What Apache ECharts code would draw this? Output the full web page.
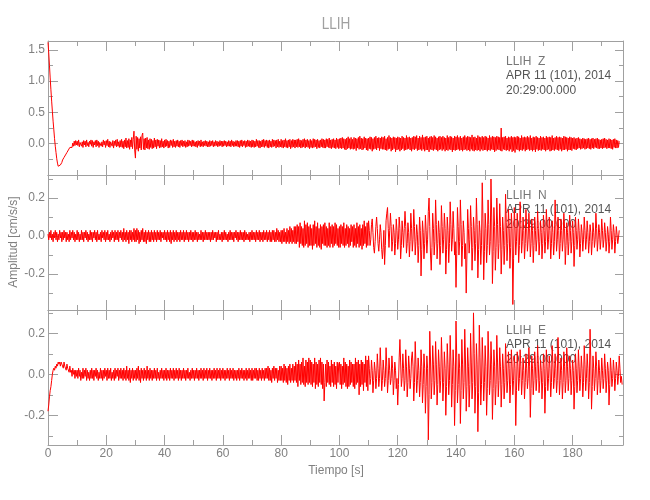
<!DOCTYPE html>
<html>
<head>
<meta charset="utf-8">
<script src="https://cdn.jsdelivr.net/npm/echarts@6/dist/echarts.min.js"></script>
<style>html,body{margin:0;padding:0;background:#fff}#c{width:650px;height:500px}</style>
</head>
<body>
<div id="c"></div>
<script>
// ---- data ----
var stationName = 'LLIH';
var components = ['Z', 'N', 'E'];
var dateLine = 'APR 11 (101), 2014';
var timeLine = '20:29:00.000';
var timeStep = 0.25; // s between samples
var xTickValues = [0, 20, 40, 60, 80, 100, 120, 140, 160, 180];
var yTickValuesZ = [0.0, 0.5, 1.0, 1.5];
var yTickValuesNE = [-0.2, 0.0, 0.2];

var compZ = [
1.62,1.45,1.25,1.05,.86,.68,.52,.36,.22,.08,-.04,-.14,-.24,-.31,-.36,-.37,-.35,-.34,-.31,-.3,
-.26,-.28,-.22,-.24,-.18,-.2,-.14,-.16,-.1,-.12,-.06,-.09,-.03,-.06,.01,-.04,.04,-.03,.05,-.02,
.04,-.03,.06,-.05,.02,.05,-.04,.03,-.06,.05,-.02,.04,-.05,.06,-.03,.02,-.05,.04,-.01,.06,
-.04,.05,-.06,.03,-.02,.05,-.05,.06,-.03,.04,-.06,.02,.05,-.04,.03,-.05,.06,-.02,.04,-.06,
.05,-.03,.07,-.05,.04,-.06,.03,.06,-.04,.05,-.07,.04,-.03,.06,-.05,.07,-.04,.03,-.06,.05,
-.05,.07,-.06,.04,-.08,.06,-.05,.09,-.07,.05,-.06,.08,-.09,.06,-.05,.1,-.08,.07,.2,-.1,
-.23,.12,-.09,.1,-.12,.08,-.07,.11,-.1,.13,.17,-.09,.08,-.1,.09,-.07,.1,-.08,.06,-.09,
.08,-.06,.07,-.08,.05,-.07,.09,-.05,.06,-.08,.07,-.04,.06,-.07,.05,-.06,.08,-.05,.04,-.07,
.06,-.05,.07,-.04,.05,-.07,.04,-.06,.06,-.03,.05,-.06,.07,-.05,.04,-.06,.05,-.04,.06,-.05,
.04,-.06,.05,-.03,.06,-.05,.04,-.04,.05,-.06,.03,-.05,.06,-.04,.05,-.03,.04,-.05,.06,-.04,
.05,-.04,.03,-.05,.04,-.06,.05,-.03,.04,-.05,.06,-.04,.03,-.05,.04,-.03,.05,-.04,.04,-.05,
.03,-.05,.05,-.04,.04,-.03,.05,-.05,.03,-.04,.05,-.03,.04,-.05,.03,-.04,.05,-.03,.04,-.05,
.04,-.04,.05,-.03,.04,-.05,.03,-.04,.05,-.04,.04,-.05,.06,-.03,.04,-.05,.03,-.04,.05,-.04,
.05,-.05,.04,-.06,.05,-.04,.06,-.05,.04,-.03,.05,-.06,.04,-.05,.06,-.04,.05,-.05,.04,-.06,
.06,-.05,.05,-.06,.04,-.05,.07,-.04,.05,-.06,.05,-.07,.04,-.05,.06,-.05,.07,-.06,.05,-.04,
.06,-.06,.05,-.07,.06,-.05,.04,-.06,.07,-.05,.06,-.04,.05,-.07,.06,-.05,.07,-.06,.04,-.05,
.07,-.06,.05,-.07,.06,-.05,.08,-.06,.05,-.07,.06,-.05,.07,-.08,.05,-.06,.07,-.05,.06,-.07,
.06,-.05,.07,-.06,.08,-.05,.06,-.07,.05,-.06,.07,-.05,.08,-.07,.06,-.05,.07,-.06,.05,-.08,
.07,-.06,.05,-.07,.08,-.06,.07,-.05,.06,-.08,.07,-.06,.05,-.07,.06,-.05,.08,-.06,.07,-.07,
.06,-.07,.08,-.05,.07,-.06,.09,-.07,.06,-.08,.07,-.06,.08,-.07,.06,-.08,.09,-.06,.07,-.08,
.08,-.07,.09,-.08,.1,-.07,.08,-.09,.07,-.1,.09,-.08,.11,-.07,.08,-.09,.1,-.08,.07,-.09,
.1,-.08,.09,-.11,.08,-.07,.1,-.09,.12,-.08,.09,-.1,.08,-.09,.11,-.07,.09,-.1,.08,-.11,
.09,-.08,.11,-.09,.1,-.12,.08,-.09,.1,-.08,.12,-.1,.09,-.07,.1,-.11,.09,-.08,.11,-.09,
.1,-.09,.12,-.1,.08,-.11,.1,-.09,.13,-.08,.1,-.12,.09,-.1,.11,-.08,.1,-.13,.09,-.1,
.11,-.09,.1,-.12,.09,-.1,.12,-.08,.1,-.11,.09,-.1,.13,-.09,.1,-.08,.11,-.1,.09,-.12,
.1,-.09,.12,-.1,.11,-.08,.13,-.11,.09,-.1,.12,-.09,.1,-.11,.14,-.09,.1,-.12,.11,-.1,
.12,-.1,.09,-.13,.11,-.09,.12,-.1,.1,-.11,.13,-.09,.11,-.1,.09,-.12,.11,-.1,.12,-.09,
.1,-.11,.12,-.09,.1,-.12,.09,-.1,.13,-.11,.1,-.09,.12,-.1,.11,-.13,.09,-.1,.12,-.11,
.11,-.1,.13,-.09,.1,-.11,.12,-.1,.09,-.12,.11,-.1,.13,-.09,.1,-.11,.12,-.1,.11,-.12,
.1,-.09,.14,-.11,.1,-.12,.11,-.1,.09,-.11,.13,-.1,.11,-.12,.1,-.09,.12,-.11,.1,-.1,
.12,-.1,.11,-.12,.09,-.1,.13,-.11,.1,-.09,.12,-.1,.11,-.13,.1,-.11,.12,-.09,.11,-.1,
.1,-.11,.25,-.12,.1,-.09,.11,-.1,.12,-.11,.09,-.1,.11,-.12,.1,-.09,.12,-.13,.1,-.11,
.11,-.14,.1,-.09,.12,-.1,.11,-.12,.09,-.1,.13,-.11,.1,-.09,.11,-.12,.1,-.1,.12,-.09,
.1,-.11,.13,-.1,.09,-.12,.11,-.1,.1,-.13,.12,-.09,.1,-.11,.09,-.1,.12,-.11,.1,-.09,
.11,-.1,.09,-.12,.12,-.1,.1,-.09,.11,-.12,.1,-.11,.13,-.1,.09,-.11,.1,-.09,.12,-.1,
.1,-.11,.11,-.09,.1,-.12,.09,-.1,.12,-.1,.11,-.09,.1,-.12,.09,-.1,.11,-.1,.1,-.11,
.09,-.08,.1,-.09,.08,-.1,.09,-.08,.1,-.07,.08,-.09,.07,-.08,.09,-.07,.08,-.09,.07,-.08,
.08,-.07,.09,-.08,.07,-.09,.08,-.07,.09,-.08,.07,-.06,.08,-.07,.09,-.08,.07,-.08,.06,-.07,
.07,-.08,.08,-.07,.09,-.06,.07,-.08,.06,-.07,.08,-.07,.07,-.08,.06,-.09,.07,-.06,.08,-.07,
.06,-.07,.05,-.06,.04
];

var compN = [
.01,-.02,.02,-.01,.03,-.02,.01,-.03,.02,-.01,.03,-.02,.02,-.03,.01,-.02,.03,-.01,.02,-.03,
.02,-.02,.03,-.01,.02,-.03,.02,-.02,.01,-.03,.03,-.02,.02,-.01,.03,-.02,.02,-.03,.01,-.02,
.03,-.02,.02,-.03,.01,-.02,.03,-.02,.02,-.03,.02,-.01,.03,-.02,.02,-.03,.01,-.02,.03,-.02,
.02,-.03,.02,-.01,.03,-.02,.02,-.03,.03,-.02,.01,-.02,.02,-.03,.03,-.01,.02,-.02,.03,-.03,
.02,-.02,.03,-.02,.01,-.03,.02,-.02,.03,-.01,.02,-.03,.03,-.02,.02,-.02,.03,-.03,.02,-.01,
.03,-.02,.02,-.03,.04,-.02,.02,-.03,.03,-.02,.02,-.04,.03,-.02,.03,-.03,.02,-.02,.04,-.03,
.03,-.03,.04,-.02,.03,-.04,.02,-.03,.03,-.02,.04,-.03,.02,-.03,.03,-.04,.02,-.02,.03,-.03,
.02,-.03,.03,-.02,.02,-.03,.03,-.02,.02,-.03,.03,-.02,.02,-.02,.03,-.03,.02,-.01,.02,-.02,
.03,-.02,.02,-.03,.03,-.02,.02,-.03,.03,-.04,.02,-.02,.03,-.03,.02,-.02,.03,-.03,.02,-.02,
.02,-.03,.03,-.02,.02,-.02,.03,-.03,.02,-.02,.03,-.02,.02,-.03,.02,-.02,.03,-.02,.02,-.03,
.02,-.02,.03,-.02,.02,-.03,.02,-.02,.01,-.02,.03,-.02,.02,-.03,.02,-.02,.03,-.02,.02,-.02,
.02,-.02,.02,-.03,.02,-.02,.03,-.02,.02,-.01,.02,-.03,.02,-.02,.03,-.02,.01,-.02,.02,-.03,
.02,-.02,.03,-.02,.02,-.02,.01,-.03,.02,-.02,.03,-.02,.02,-.02,.02,-.03,.02,-.01,.03,-.02,
.02,-.03,.02,-.02,.03,-.02,.02,-.02,.02,-.03,.03,-.02,.02,-.02,.01,-.02,.02,-.03,.02,-.02,
.03,-.02,.02,-.02,.02,-.03,.03,-.02,.02,-.02,.03,-.03,.02,-.02,.02,-.03,.03,-.02,.02,-.02,
.03,-.03,.02,-.02,.03,-.03,.02,-.03,.03,-.02,.03,-.03,.02,-.03,.04,-.02,.03,-.03,.02,-.03,
.03,-.04,.03,-.03,.04,-.03,.02,-.04,.04,-.03,.03,-.04,.05,-.03,.04,-.04,.03,-.03,.05,-.04,
.05,-.04,.06,-.03,.05,-.06,.07,-.04,.05,-.05,.04,-.06,.08,-.05,.06,-.04,.07,-.06,.05,-.05,
.06,-.05,.04,-.07,.06,-.05,.08,-.04,.05,-.06,.07,-.05,.04,-.06,.06,-.07,.05,-.04,.06,-.05,
.07,-.05,.05,-.06,.04,-.05,.07,-.06,.05,-.04,.06,-.06,.05,-.05,.07,-.04,.06,-.05,.04,-.06,
.05,-.06,.06,-.04,.05,-.05,.07,-.06,.04,-.05,.06,-.04,.05,-.06,.04,-.05,.06,-.03,.05,-.06,
.06,-.05,.04,-.06,.07,-.04,.05,-.06,.06,-.05,.04,-.07,.06,-.05,.08,-.04,.05,-.06,.07,-.05,
.08,.03,-.05,-.02,.06,.09,.02,-.06,-.09,-.03,.05,.1,.04,-.04,-.08,-.02,.06,.02,-.07,-.12,
-.06,.03,-.15,-.05,.08,.12,.15,.04,-.06,.03,.12,.05,-.08,-.03,.06,.02,-.1,-.04,.09,.03,
-.07,-.02,.1,.04,-.12,-.05,.08,.02,-.06,.04,.13,.05,-.09,-.04,.07,.02,-.11,-.03,.12,.04,
-.08,-.02,.14,.05,-.1,-.03,.06,.01,-.14,-.05,.1,.03,-.21,-.07,.08,.02,-.12,-.04,.11,.03,
-.09,-.02,.13,.2,.05,-.1,-.18,-.06,.12,.04,-.1,-.03,.19,.06,-.12,-.04,.08,.02,-.15,-.05,
.16,.05,-.09,-.02,.12,.04,-.2,-.07,.1,.03,-.14,-.04,.18,.06,-.08,-.02,.13,.04,-.1,-.03,
-.27,-.09,.15,.05,-.1,-.03,.19,.06,-.16,-.05,.08,.02,-.12,-.04,-.3,-.1,.14,.04,-.09,-.02,
.16,.05,-.18,-.06,.1,.03,-.13,-.04,.2,.06,-.22,-.07,.08,.02,-.15,-.05,.28,.09,-.23,-.08,
.12,.04,-.14,-.05,.19,.06,-.1,-.03,.3,.1,-.25,-.08,.15,.05,-.18,-.06,.2,.06,-.12,-.04,
.17,.05,-.2,-.07,.1,.03,-.15,-.05,.22,.07,-.13,-.04,.14,.04,-.17,-.06,.12,.04,-.36,-.12,
.15,.05,-.1,-.03,.12,.04,-.14,-.05,.18,.06,-.09,-.03,.1,.03,-.12,-.04,.14,.04,-.08,-.02,
.12,.04,-.11,-.04,.09,.03,-.14,-.05,.1,.03,-.08,-.02,.13,.04,-.1,-.03,.08,.02,-.12,-.04,
.11,.03,-.09,-.03,.14,.05,-.07,-.02,.1,.03,-.12,-.04,.08,.02,-.1,-.03,.19,.06,-.08,-.02,
.1,.03,-.12,-.04,.09,.03,-.08,-.02,.12,.04,-.15,-.05,.07,.02,-.1,-.03,.11,.03,-.09,-.03,
.08,.02,-.16,-.05,.1,.03,-.07,-.02,.09,.03,-.11,-.04,.06,.02,-.08,-.02,.1,.03,-.07,-.02,
.08,.02,-.09,-.03,.06,.02,-.1,-.03,.07,.02,-.06,-.02,.12,.04,-.08,-.02,.06,.02,-.07,-.02,
.09,.03,-.06,-.02,.07,.02,-.08,-.03,.05,.01,-.09,-.03,.1,.03,-.07,-.02,.06,.02,-.09,-.03,
.05,.01,-.04,-.01,.03
];

var compE = [
-.18,-.15,-.11,-.08,-.06,-.03,0,.02,.03,.02,.04,.03,.05,.04,.06,.05,.06,.04,.06,.05,
.05,.03,.06,.04,.04,.02,.05,.03,.03,.01,.04,.01,.02,-.01,.03,0,.02,-.02,.02,-.01,
.02,-.02,.03,-.01,.02,-.03,.01,-.02,.03,-.02,.02,-.01,.03,-.03,.02,-.02,.01,-.03,.02,-.02,
.03,-.02,.02,-.03,.02,-.01,.03,-.02,.02,-.03,.01,-.02,.03,-.02,.02,-.03,.02,-.02,.03,-.01,
.02,-.03,.03,-.02,.02,-.02,.03,-.03,.01,-.02,.02,-.03,.03,-.02,.02,-.01,.03,-.03,.02,-.02,
.03,-.02,.02,-.03,.03,-.02,.02,-.03,.04,-.02,.02,-.03,.03,-.04,.02,-.02,.03,-.03,.02,-.02,
.02,-.03,.03,-.02,.04,-.03,.02,-.04,.03,-.02,.02,-.03,.03,-.02,.02,-.03,.04,-.02,.02,-.03,
.03,-.02,.02,-.03,.02,-.02,.03,-.02,.02,-.03,.03,-.02,.01,-.03,.02,-.02,.03,-.02,.02,-.03,
.02,-.02,.03,-.03,.02,-.02,.02,-.03,.03,-.02,.02,-.02,.03,-.03,.02,-.02,.03,-.02,.02,-.03,
.03,-.02,.02,-.03,.02,-.02,.03,-.02,.02,-.03,.02,-.02,.03,-.02,.01,-.03,.02,-.02,.03,-.02,
.02,-.03,.02,-.02,.03,-.02,.02,-.03,.02,-.02,.03,-.02,.02,-.03,.03,-.02,.02,-.02,.03,-.03,
.02,-.02,.03,-.02,.02,-.03,.02,-.02,.03,-.02,.02,-.03,.03,-.02,.02,-.02,.03,-.03,.02,-.02,
.03,-.02,.02,-.03,.02,-.02,.03,-.02,.02,-.03,.03,-.02,.02,-.02,.03,-.03,.02,-.02,.02,-.03,
.02,-.02,.03,-.03,.02,-.02,.03,-.02,.02,-.03,.02,-.02,.03,-.03,.02,-.02,.03,-.02,.02,-.03,
.03,-.03,.02,-.02,.03,-.02,.03,-.03,.02,-.03,.03,-.02,.02,-.03,.03,-.02,.02,-.03,.03,-.02,
.03,-.02,.04,-.03,.03,-.03,.02,-.04,.03,-.02,.04,-.03,.03,-.02,.03,-.04,.02,-.03,.04,-.03,
.04,-.03,.03,-.04,.05,-.03,.04,-.04,.03,-.05,.04,-.03,.05,-.04,.03,-.03,.05,-.04,.04,-.03,
.06,-.04,.05,-.06,.07,-.03,.05,-.05,.06,-.04,.08,-.05,.04,-.06,.07,-.04,.06,-.05,.08,-.04,
.07,-.05,.06,-.06,.05,-.04,.08,-.07,.06,-.05,.05,-.06,.07,-.04,.08,-.05,.06,-.07,.05,-.13,
-.04,.05,-.06,.07,-.04,.06,-.05,.04,-.06,.07,-.04,.05,-.06,.06,-.05,.04,-.07,.06,-.04,.05,
.06,-.05,.05,-.07,.04,-.05,.08,-.04,.06,-.06,.05,-.07,.04,-.06,.07,-.05,.06,-.04,.05,-.06,
.05,-.07,.08,-.05,.06,-.04,.07,-.1,.05,-.06,.07,-.05,.06,-.08,.05,-.04,.09,-.06,.07,-.08,
.09,.03,-.05,-.02,.07,.02,-.09,-.03,.06,.02,-.07,-.02,.1,.03,-.06,-.02,.13,.04,-.08,-.03,
.07,.02,-.06,-.02,.13,.04,-.09,-.03,.08,.02,-.05,-.02,.09,.03,-.1,-.03,.06,.02,-.07,-.02,
-.15,-.05,.08,.17,.06,-.06,-.02,.1,.03,-.08,-.03,.12,.04,-.11,-.04,.09,.03,-.07,-.02,.08,
.11,.04,-.13,-.04,.16,.05,-.09,-.03,.08,.02,-.11,-.04,.12,.04,-.14,-.05,.1,.03,-.19,-.06,
.09,.03,-.32,-.1,.21,.07,-.12,-.04,.14,.05,-.1,-.03,.16,.05,-.15,-.05,.12,.04,-.09,-.03,
.18,.06,-.13,-.04,.11,.03,-.2,-.06,.15,.05,-.1,-.03,.19,.06,-.16,-.05,.12,.04,-.25,-.08,
.26,.08,-.14,-.05,.1,.03,-.24,-.08,.17,.05,-.12,-.04,.22,.07,-.18,-.06,.13,.04,-.16,-.05,
.2,.06,-.12,-.04,.3,.1,-.19,-.06,.15,.05,-.28,-.09,.24,.08,-.15,-.05,.18,.06,-.13,-.04,
.14,.04,-.2,-.07,.21,.07,-.1,-.03,.16,.05,-.22,-.07,.12,.04,-.15,-.05,.19,.06,-.11,-.03,
.13,.04,-.16,-.05,.1,.03,-.12,-.04,.15,.05,-.09,-.03,.11,.03,-.14,-.05,.12,.04,-.1,-.03,
.09,.03,-.25,-.08,.11,.04,-.08,-.02,.12,.04,-.1,-.03,.08,.02,-.12,-.04,.1,.03,-.07,-.02,
.13,.04,-.21,-.07,.09,.03,-.1,-.03,.11,.04,-.08,-.02,.14,.05,-.09,-.03,.07,.02,-.12,-.04,
.1,.03,-.19,-.06,.12,.04,-.08,-.02,.09,.03,-.11,-.04,.14,.05,-.07,-.02,.1,.03,-.09,-.03,
.18,.06,-.1,-.03,.08,.02,-.12,-.04,.11,.04,-.09,-.03,.13,.04,-.08,-.02,.09,.03,-.1,-.03,
.07,.02,-.17,-.06,.1,.03,-.09,-.03,.12,.04,-.08,-.02,.09,.03,-.11,-.04,.14,.05,-.08,-.02,
.1,.03,-.12,-.04,.22,.07,-.17,-.06,.09,.03,-.08,-.02,.11,.04,-.1,-.03,.07,.02,-.09,-.03,
.08,.02,-.07,-.02,.1,.03,-.09,-.03,.06,.02,-.15,-.05,.08,.02,-.06,-.02,.07,.02,-.08,-.02,
.06,.02,-.05,-.01,.09,.03,-.04,-.01,-.05
];

// ---- chart ----
var FONT = "'Liberation Sans', Arial, sans-serif";
var AXIS_COLOR = '#a0a0a0';
var LABEL_COLOR = '#808080';

function pairs(arr) {
  return arr.map(function (v, i) { return [i * timeStep, v]; });
}
function inList(v, list) {
  for (var i = 0; i < list.length; i++) if (Math.abs(list[i] - v) < 1e-6) return true;
  return false;
}

var X_MIN = 0, X_MAX = 197.3;
var panels = [
  { top: 41, height: 134, yMin: -0.5, yMax: 1.64, yInterval: 0.5, labels: yTickValuesZ, data: compZ },
  { top: 175, height: 135, yMin: -0.389, yMax: 0.321, splitNumber: 4, labels: yTickValuesNE, data: compN },
  { top: 310, height: 135, yMin: -0.345, yMax: 0.314, splitNumber: 4, labels: yTickValuesNE, data: compE }
];

var grids = [], xAxes = [], yAxes = [], series = [], graphics = [];
function ticks(len) { return { inside: true, length: len, lineStyle: { color: AXIS_COLOR } }; }
function minor(len) { return { show: true, splitNumber: 2, length: len, lineStyle: { color: AXIS_COLOR } }; }
var lineCommon = { show: true, onZero: false, lineStyle: { color: AXIS_COLOR, width: 1 } };

panels.forEach(function (p, k) {
  grids.push({ left: 48, right: 27, top: p.top, height: p.height });
  var showX = (k === 2);
  ['bottom', 'top'].forEach(function (pos) {
    xAxes.push({
      type: 'value', gridIndex: k, position: pos, min: X_MIN, max: X_MAX, interval: 20,
      axisLine: lineCommon, axisTick: ticks(10), minorTick: minor(5),
      splitLine: { show: false },
      axisLabel: {
        show: showX && pos === 'bottom', margin: 3, color: LABEL_COLOR, fontSize: 12, fontFamily: FONT,
        showMaxLabel: false,
        formatter: function (v) { return inList(v, xTickValues) ? String(Math.round(v)) : ''; }
      }
    });
  });
  ['left', 'right'].forEach(function (pos) {
    var ax = {
      type: 'value', gridIndex: k, position: pos, min: p.yMin, max: p.yMax,
      axisLine: lineCommon,
      axisTick: ticks(pos === 'left' ? 10 : 8), minorTick: minor(pos === 'left' ? 5 : 4),
      splitLine: { show: false },
      axisLabel: {
        show: pos === 'left', margin: 3, color: LABEL_COLOR, fontSize: 12, fontFamily: FONT,
        formatter: (function (list) {
          return function (v) { return inList(v, list) ? v.toFixed(1) : ''; };
        })(p.labels)
      }
    };
    if (p.yInterval) ax.interval = p.yInterval; else ax.splitNumber = p.splitNumber;
    yAxes.push(ax);
  });
  series.push({
    type: 'line', xAxisIndex: k * 2, yAxisIndex: k * 2, data: pairs(p.data),
    showSymbol: false, symbol: 'none', sampling: null, z: 3,
    lineStyle: { color: '#ff0000', width: 1 }, silent: true
  });
  var tx = 506, ty = p.top + 20.5;
  [stationName + '  ' + components[k], dateLine, timeLine].forEach(function (s, j) {
    graphics.push({
      type: 'text', x: tx, y: ty + j * 14.5, z: 1,
      style: { text: s, fill: j === 0 ? '#777777' : '#555555', fontSize: 12, fontFamily: FONT, verticalAlign: 'middle' }
    });
  });
});

graphics.push({
  type: 'text', x: 336, y: 24, z: 1, scaleX: 0.8,
  style: { text: stationName, fill: '#a0a0a0', fontSize: 17, fontFamily: FONT, align: 'center', verticalAlign: 'middle' }
});
graphics.push({
  type: 'text', x: 336, y: 471, z: 1,
  style: { text: 'Tiempo [s]', fill: LABEL_COLOR, fontSize: 12, fontFamily: FONT, align: 'center', verticalAlign: 'middle' }
});
graphics.push({
  type: 'text', x: 14, y: 242, rotation: Math.PI / 2, z: 1,
  style: { text: 'Amplitud [cm/s/s]', fill: LABEL_COLOR, fontSize: 12, fontFamily: FONT, align: 'center', verticalAlign: 'middle' }
});

var chart = echarts.init(document.getElementById('c'), null, { renderer: 'canvas' });
chart.setOption({
  animation: false,
  backgroundColor: '#ffffff',
  grid: grids, xAxis: xAxes, yAxis: yAxes, series: series, graphic: graphics
});
</script>
</body>
</html>
